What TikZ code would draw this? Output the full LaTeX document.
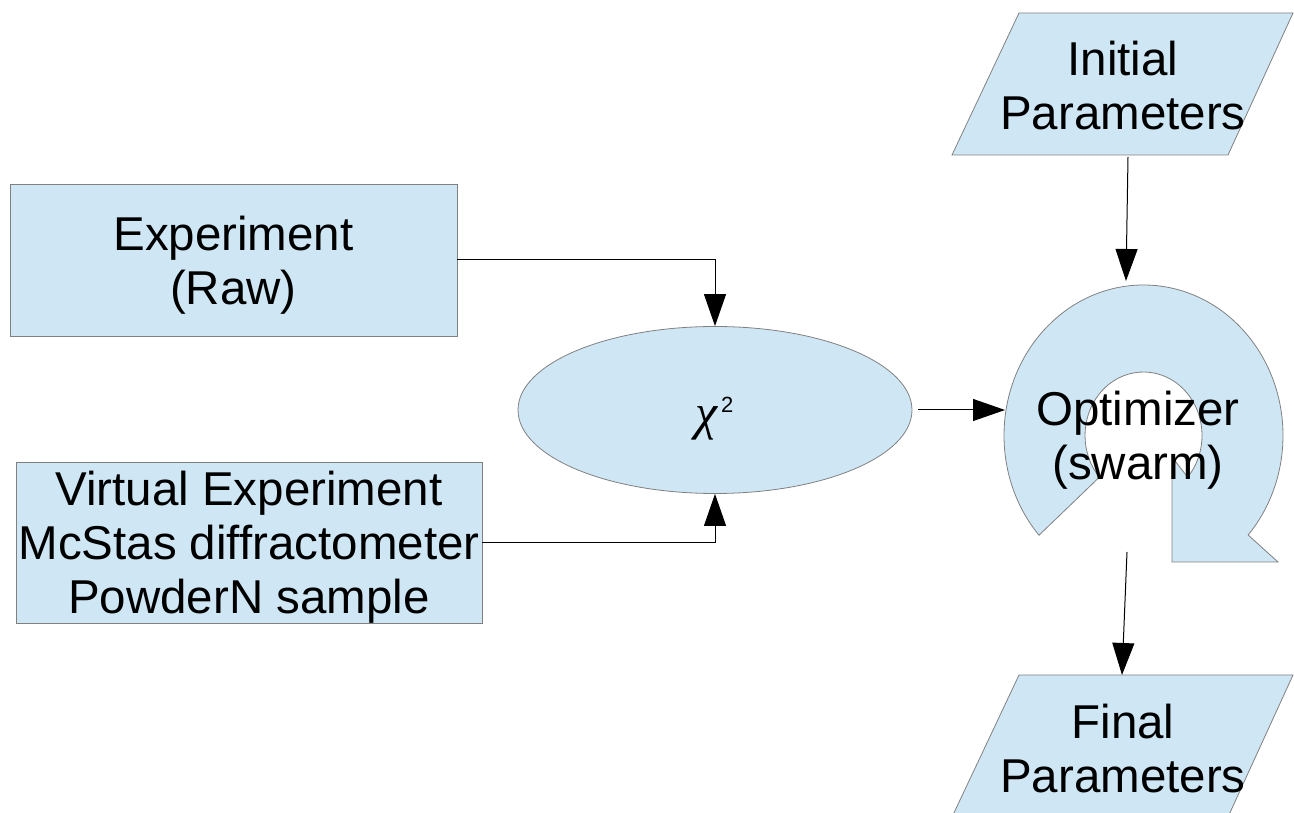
\documentclass[tikz,border=0pt]{standalone}
\usepackage{fontspec}
\setmainfont{Liberation Sans}
\newfontfamily\chifont{Liberation Serif}
\usetikzlibrary{arrows.meta,shapes.geometric}
\definecolor{boxfill}{HTML}{CFE7F5}
\definecolor{boxline}{HTML}{808080}
\begin{document}
\begin{tikzpicture}[x=1pt,y=1pt,
  shapebox/.style={fill=boxfill, draw=boxline, line width=0.8pt},
  txt/.style={align=center, font=\fontsize{47.5}{54}\selectfont, inner sep=0pt},
  conn/.style={draw=black, line width=1pt, -{Triangle[length=32pt,width=22pt]}}]
\useasboundingbox (0,0) rectangle (1294,812);
% boxes
\node[shapebox, minimum width=447pt, minimum height=152pt, inner sep=0pt] (exp) at (233.5,552) {};
\node[txt] (exptext) at ([yshift=-5pt]exp.center) {Experiment\\(Raw)};
\node[shapebox, minimum width=466pt, minimum height=161pt, inner sep=0pt] (virt) at (249,269.5) {};
\node[txt] (virttext) at ([yshift=-5pt]virt.center) {Virtual Experiment\\McStas diffractometer\\PowderN sample};
\node[shapebox, ellipse, minimum width=394pt, minimum height=167pt, inner sep=0pt] (chi) at (715,402) {};
\node[inner sep=0pt, anchor=base, font=\chifont\itshape\fontsize{50}{50}\selectfont] (chitext) at (706.5,382) {χ};
\node[inner sep=0pt, anchor=base west, font=\fontsize{22}{22}\selectfont] (chisup) at (721,399) {2};
% parallelograms
\draw[shapebox] (952,657) -- (1228,657) -- (1293,799) -- (1019,799) -- cycle;
\node[txt] (init) at (1123,726) {Initial\\Parameters};
\draw[shapebox] (952,-5) -- (1228,-5) -- (1293,137) -- (1019,137) -- cycle;
\node[txt] (final) at (1123,63.5) {Final\\Parameters};
% optimizer circular arrow
\coordinate (optc) at (1143.5,376.5);
\draw[shapebox] ([shift={(221.5:139.5 and 150.5)}]optc)
  arc[start angle=221.5, end angle=-41.4, x radius=139.5, y radius=150.5]
  -- (1278,250) -- (1172,250) -- (1172,355)
  -- ([shift={(-41:58.5 and 63.5)}]optc)
  arc[start angle=-41, end angle=221, x radius=58.5, y radius=63.5] -- cycle;
\node[txt] (opt) at (1138,372) {Optimizer\\(swarm)};
% connectors
\coordinate (chiout) at (918,402);
\coordinate (optW) at (1005,402);
\coordinate (initS) at (1128,655);
\coordinate (optN) at (1126,531);
\coordinate (optS) at (1127,260);
\coordinate (finN) at (1122,137);
\draw[conn] (exp.east) -| (chi.north);
\draw[conn] (virt.east) -| (chi.south);
\draw[conn] (chiout) -- (optW);
\draw[conn] (initS) -- (optN);
\draw[conn] (optS) -- (finN);
\end{tikzpicture}
\end{document}
